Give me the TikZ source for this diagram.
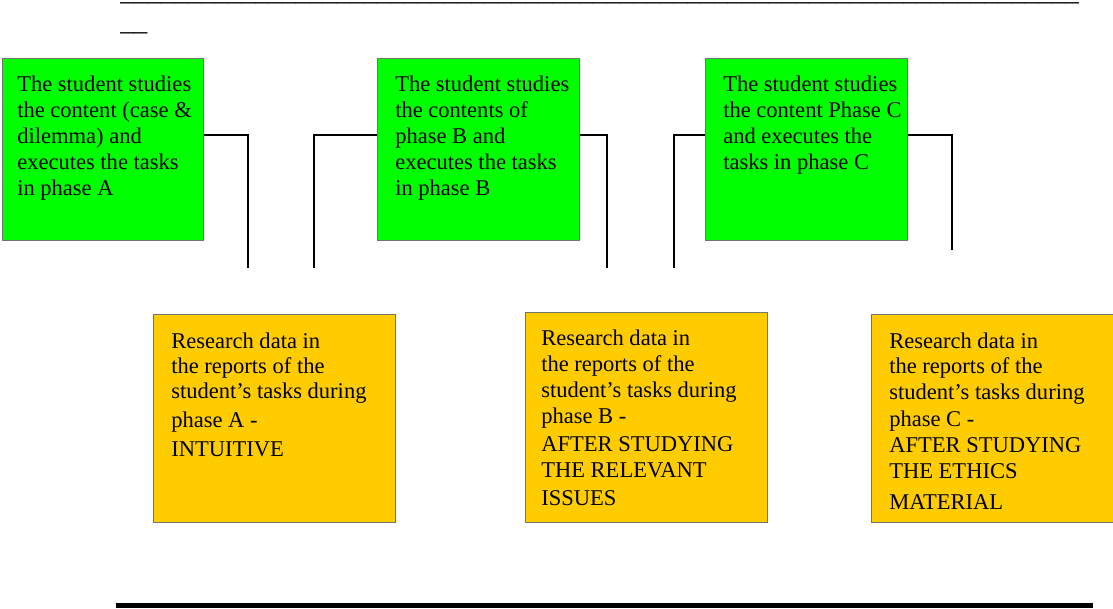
\documentclass[tikz,border=0pt]{standalone}
\usepackage{fontspec}
\setmainfont{Liberation Serif}
\begin{document}
% lines of a text block, first baseline at the node's base
\newcommand\txtblock[2]{\vtop{\baselineskip=#1\lineskiplimit=-20pt\lineskip=0pt #2}}
\newcommand\tline[1]{\hbox{#1}}
\newcommand\uscrow[1]{\foreach \i in {1,...,#1}{\_}}
\begin{tikzpicture}[x=0.75pt,y=-0.75pt,
  box/.style={draw=black!55,line width=0.6pt,inner sep=0,anchor=north west},
  taskbox/.style={box,fill=phasegreen},
  databox/.style={box,fill=dataorange},
  boxtext/.style={inner sep=0,anchor=base west,font=\fontsize{16.9}{19.5}\selectfont},
  link/.style={line width=1.2pt,black}]
\definecolor{phasegreen}{HTML}{00FF00}
\definecolor{dataorange}{HTML}{FFCC00}
\useasboundingbox (0,0) rectangle (1113,608);

% title rule made of underscores
\node[inner sep=0,anchor=base west,font=\fontsize{20.25}{22.5}\selectfont] (title) at (120,0.8)
  {\txtblock{22pt}{\tline{\uscrow{71}}\tline{\_\_}}};

% phase boxes
\node[taskbox,minimum width=201*0.75pt,minimum height=182*0.75pt] (g1) at (2,58) {};
\node[taskbox,minimum width=202*0.75pt,minimum height=182*0.75pt] (g2) at (377,58) {};
\node[taskbox,minimum width=202*0.75pt,minimum height=182*0.75pt] (g3) at (705,58) {};

\node[boxtext] (g1t) at (17,91) {\txtblock{19.5pt}{%
  \tline{The student studies}\tline{the content (case \&}\tline{dilemma) and}%
  \tline{executes the tasks}\tline{in phase A}}};
\node[boxtext] (g2t) at (395,91) {\txtblock{19.5pt}{%
  \tline{The student studies}\tline{the contents of}\tline{phase B and}%
  \tline{executes the tasks}\tline{in phase B}}};
\node[boxtext] (g3t) at (723,91) {\txtblock{19.5pt}{%
  \tline{The student studies}\tline{the content Phase C}\tline{and executes the}%
  \tline{tasks in phase C}}};

% research data boxes
\node[databox,minimum width=242*0.75pt,minimum height=208*0.75pt] (o1) at (153,314) {};
\node[databox,minimum width=242*0.75pt,minimum height=210*0.75pt] (o2) at (525,312) {};
\node[databox,minimum width=242*0.75pt,minimum height=208*0.75pt] (o3) at (871,314) {};

\node[boxtext] (o1t) at (171,348) {\txtblock{18.75pt}{%
  \tline{Research data in}\tline{the reports of the}\tline{student’s tasks during}%
  \vskip3.5pt\tline{phase A -}\vskip3pt\tline{INTUITIVE}}};
\node[boxtext] (o2t) at (541,345) {\txtblock{19.5pt}{%
  \tline{Research data in}\tline{the reports of the}\tline{student’s tasks during}%
  \tline{phase B -}\vskip1.5pt\tline{AFTER STUDYING}\tline{THE RELEVANT}\vskip1.5pt\tline{ISSUES}}};
\node[boxtext] (o3t) at (889,348) {\txtblock{19.2pt}{%
  \tline{Research data in}\tline{the reports of the}\tline{student’s tasks during}%
  \vskip1.5pt\tline{phase C -}\tline{AFTER STUDYING}\tline{THE ETHICS}\vskip4.5pt\tline{MATERIAL}}};

% open ends of the connectors
\coordinate (e1) at (248,268);
\coordinate (e2) at (314,268);
\coordinate (e3) at (607,268);
\coordinate (e4) at (674,268);
\coordinate (e5) at (952,250);

\draw[link] ([yshift=11pt]g1.east) -| (e1);
\draw[link] (e2) |- ([yshift=11pt]g2.west);
\draw[link] ([yshift=11pt]g2.east) -| (e3);
\draw[link] (e4) |- ([yshift=11pt]g3.west);
\draw[link] ([yshift=11pt]g3.east) -| (e5);

% closing rule
\coordinate (r1) at (116,605.5);
\coordinate (r2) at (1093,605.5);
\draw[line width=4pt] (r1) -- (r2);
\end{tikzpicture}
\end{document}
